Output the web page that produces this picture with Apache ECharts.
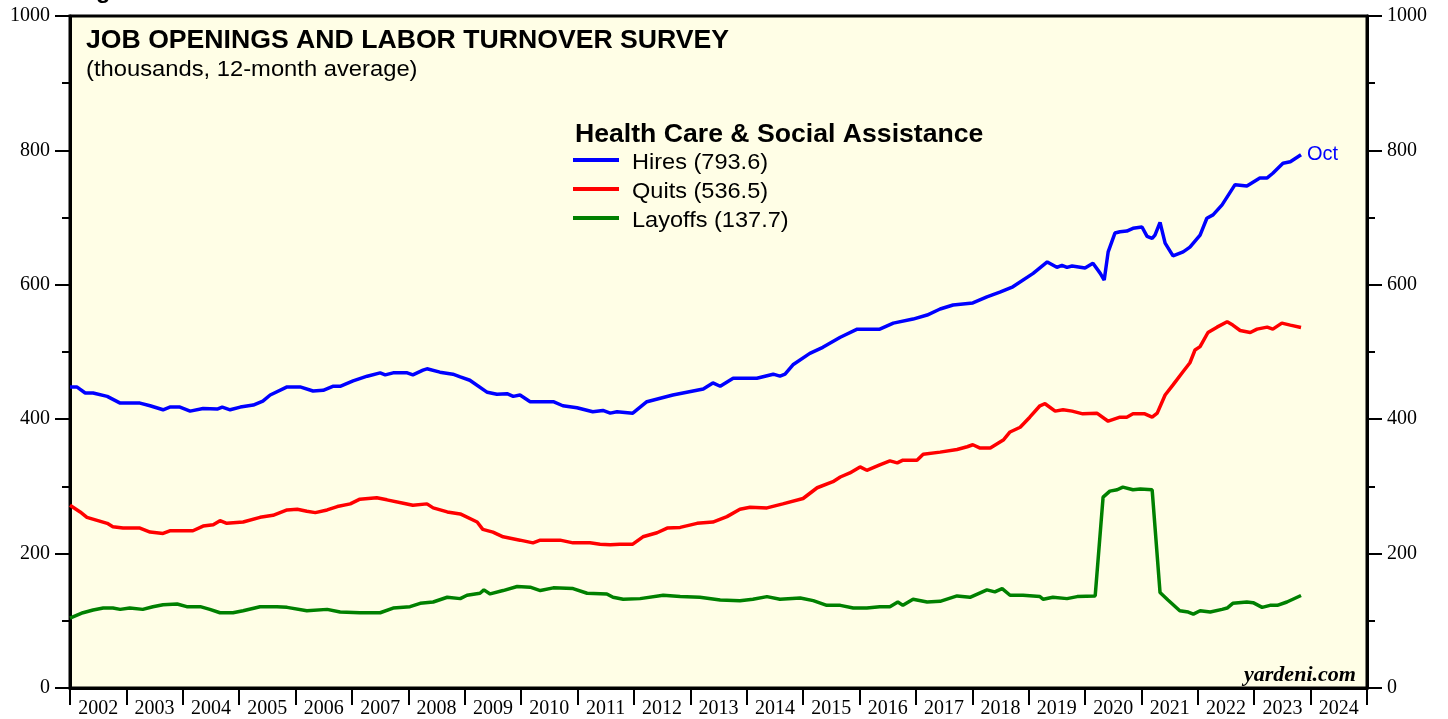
<!DOCTYPE html>
<html>
<head>
<meta charset="utf-8">
<script src="https://cdn.jsdelivr.net/npm/echarts@6/dist/echarts.min.js"></script>
<style>
  html, body { margin: 0; padding: 0; background: #fff; }
  #chart { width: 1448px; height: 719px; }
</style>
</head>
<body>
<div id="chart"></div>
<script>
// 年份标签（每个标签居中于一年）
const yearLabels = ['2002','2003','2004','2005','2006','2007','2008','2009','2010','2011','2012',
  '2013','2014','2015','2016','2017','2018','2019','2020','2021','2022','2023','2024'];
// y轴刻度
const yTicks = [0, 200, 400, 600, 800, 1000];
const lastMonth = 'Oct';

// 雇佣 Hires [年份, 千人]
const hires = [
  [2002.00,448],[2002.12,448],[2002.27,439],[2002.41,439],[2002.66,434],[2002.89,424],[2003.24,424],
  [2003.42,420],[2003.65,414],[2003.77,418],[2003.95,418],[2004.13,412],[2004.36,416],[2004.61,415],
  [2004.70,418],[2004.84,414],[2005.02,418],[2005.25,421],[2005.42,427],[2005.55,436],[2005.85,448],
  [2006.08,448],[2006.31,442],[2006.49,443],[2006.66,449],[2006.79,449],[2007.02,457],[2007.27,464],
  [2007.50,469],[2007.59,466],[2007.73,469],[2007.98,469],[2008.08,466],[2008.26,473],[2008.33,475],
  [2008.56,470],[2008.79,467],[2008.92,463],[2009.09,458],[2009.40,440],[2009.57,437],[2009.75,438],
  [2009.86,434],[2009.98,436],[2010.16,426],[2010.57,426],[2010.74,420],[2010.99,417],[2011.27,411],
  [2011.45,413],[2011.58,409],[2011.70,411],[2011.98,409],[2012.23,426],[2012.69,436],[2013.23,445],
  [2013.40,454],[2013.53,449],[2013.76,461],[2014.18,461],[2014.47,467],[2014.59,464],[2014.68,467],
  [2014.82,481],[2015.12,498],[2015.35,507],[2015.66,522],[2015.96,534],[2016.36,534],[2016.60,543],
  [2016.95,549],[2017.20,555],[2017.43,564],[2017.66,570],[2018.01,573],[2018.26,582],[2018.49,589],
  [2018.72,597],[2019.08,617],[2019.33,634],[2019.50,626],[2019.59,629],[2019.68,626],[2019.77,628],
  [2020.00,625],[2020.14,632],[2020.27,617],[2020.34,607],[2020.41,649],[2020.53,677],[2020.62,679],
  [2020.74,680],[2020.85,684],[2021.01,686],[2021.10,672],[2021.19,669],[2021.24,674],[2021.33,693],
  [2021.42,662],[2021.56,643],[2021.74,649],[2021.86,656],[2022.04,674],[2022.16,699],[2022.27,704],
  [2022.43,719],[2022.66,749],[2022.87,747],[2023.10,759],[2023.23,759],[2023.33,766],[2023.51,781],
  [2023.64,783],[2023.83,793.6]
];

// 辞职 Quits
const quits = [
  [2002.00,272],[2002.18,262],[2002.30,254],[2002.66,245],[2002.76,240],[2002.94,238],[2003.24,238],
  [2003.42,232],[2003.65,230],[2003.77,234],[2004.18,234],[2004.36,241],[2004.54,243],[2004.66,249],
  [2004.78,245],[2005.07,247],[2005.37,254],[2005.60,257],[2005.85,265],[2006.03,266],[2006.20,263],
  [2006.35,261],[2006.56,265],[2006.74,270],[2006.97,274],[2007.14,281],[2007.44,283],[2007.62,280],
  [2007.91,275],[2008.08,272],[2008.33,274],[2008.44,268],[2008.69,262],[2008.92,259],[2009.22,247],
  [2009.32,236],[2009.50,232],[2009.68,225],[2009.98,220],[2010.21,216],[2010.34,220],[2010.69,220],
  [2010.92,216],[2011.22,216],[2011.40,214],[2011.58,213],[2011.75,214],[2011.98,214],[2012.16,225],
  [2012.41,231],[2012.59,238],[2012.82,239],[2013.12,245],[2013.40,247],[2013.65,255],[2013.88,266],
  [2014.06,269],[2014.36,268],[2014.64,274],[2015.00,282],[2015.25,298],[2015.53,307],[2015.66,314],
  [2015.83,320],[2016.01,329],[2016.13,324],[2016.36,332],[2016.54,338],[2016.67,335],[2016.77,339],
  [2017.02,339],[2017.13,348],[2017.43,351],[2017.73,355],[2017.91,359],[2018.01,362],[2018.14,357],
  [2018.32,357],[2018.55,369],[2018.67,381],[2018.85,388],[2019.02,403],[2019.20,420],[2019.29,423],
  [2019.47,412],[2019.61,414],[2019.77,412],[2019.96,408],[2020.21,409],[2020.41,397],[2020.62,403],
  [2020.74,403],[2020.85,408],[2021.06,408],[2021.19,403],[2021.28,409],[2021.42,436],[2021.56,451],
  [2021.74,471],[2021.86,484],[2021.95,503],[2022.04,508],[2022.18,529],[2022.34,537],[2022.52,545],
  [2022.62,540],[2022.75,532],[2022.93,529],[2023.05,534],[2023.23,537],[2023.33,534],[2023.49,543],
  [2023.64,540],[2023.83,536.5]
];

// 裁员 Layoffs
const layoffs = [
  [2002.00,104],[2002.23,112],[2002.41,116],[2002.59,119],[2002.76,119],[2002.89,117],[2003.06,119],
  [2003.29,117],[2003.47,121],[2003.65,124],[2003.90,125],[2004.07,121],[2004.31,121],[2004.48,117],
  [2004.66,112],[2004.89,112],[2005.07,115],[2005.37,121],[2005.67,121],[2005.85,120],[2006.20,115],
  [2006.56,117],[2006.79,113],[2007.14,112],[2007.50,112],[2007.73,119],[2008.03,121],[2008.21,126],
  [2008.44,128],[2008.69,135],[2008.92,133],[2009.04,138],[2009.27,141],[2009.34,146],[2009.45,140],
  [2009.68,145],[2009.93,151],[2010.16,150],[2010.34,145],[2010.57,149],[2010.92,148],[2011.17,141],
  [2011.52,140],[2011.63,135],[2011.81,132],[2012.11,133],[2012.52,138],[2012.82,136],[2013.17,135],
  [2013.53,131],[2013.88,130],[2014.11,132],[2014.36,136],[2014.59,132],[2014.95,134],[2015.18,130],
  [2015.42,123],[2015.66,123],[2015.89,119],[2016.13,119],[2016.36,121],[2016.54,121],[2016.68,128],
  [2016.77,123],[2016.95,132],[2017.20,128],[2017.43,129],[2017.73,137],[2017.96,135],[2018.26,146],
  [2018.40,143],[2018.53,148],[2018.67,138],[2018.90,138],[2019.20,136],[2019.26,132],[2019.43,135],
  [2019.68,133],[2019.86,136],[2020.18,137],[2020.32,284],[2020.44,293],[2020.57,295],[2020.67,299],
  [2020.85,295],[2020.98,296],[2021.19,295],[2021.33,142],[2021.47,131],[2021.68,115],[2021.83,113],
  [2021.92,110],[2022.04,115],[2022.22,113],[2022.43,117],[2022.52,119],[2022.62,126],[2022.87,128],
  [2022.98,127],[2023.14,120],[2023.28,123],[2023.41,123],[2023.58,128],[2023.83,137.7]
];

const seriesNames = ['Hires', 'Quits', 'Layoffs'];
const seriesColors = ['#0000ff', '#ff0000', '#008000'];
const seriesData = [hires, quits, layoffs];

const sans = '"Liberation Sans", Arial, sans-serif';
const serif = '"Liberation Serif", "Times New Roman", serif';
const stretch = 1.07; // 原图文字略宽

let myChart = echarts.init(document.getElementById('chart'));

// y轴公用设置
function yAxisOpt(pos) {
  return {
    type: 'value',
    position: pos,
    min: yTicks[0],
    max: yTicks[yTicks.length - 1],
    interval: 200,
    axisLine: { show: true, lineStyle: { color: '#000', width: 3 } },
    axisTick: { show: true, length: 15, lineStyle: { color: '#000', width: 2 } },
    minorTick: { show: true, splitNumber: 2, length: 8, lineStyle: { color: '#000', width: 2 } },
    splitLine: { show: false },
    axisLabel: {
      color: '#000', fontFamily: serif, fontSize: 20, margin: 20,
      formatter: function (v) { return String(v); }
    }
  };
}

// 文字
function txt(x, y, text, font, opts) {
  opts = opts || {};
  return {
    type: 'text',
    x: x, y: y,
    scaleX: opts.scaleX || stretch,
    z: 100,
    style: {
      text: text,
      font: font,
      fill: opts.fill || '#000',
      align: opts.align || 'left',
      verticalAlign: 'top'
    }
  };
}

// 图例（线段 + 文字，数值取最后一个点）
let legendEls = [];
seriesNames.forEach(function (name, i) {
  const d = seriesData[i];
  const cy = 160 + i * 29;
  legendEls.push({
    type: 'line',
    z: 100,
    shape: { x1: 573, y1: cy, x2: 619, y2: cy },
    style: { stroke: seriesColors[i], lineWidth: 4 }
  });
  legendEls.push(txt(632, cy - 8, name + ' (' + d[d.length - 1][1].toFixed(1) + ')', '22px ' + sans));
});

let option = {
  animation: false,
  backgroundColor: '#ffffff',
  graphic: [
    txt(75, -19, 'Figure 6.', 'bold 22px ' + sans),
    txt(86, 29, 'JOB OPENINGS AND LABOR TURNOVER SURVEY', 'bold 25px ' + sans, { scaleX: 1.065 }),
    txt(86, 59, '(thousands, 12-month average)', '22px ' + sans, { scaleX: 1.08 }),
    txt(575, 123, 'Health Care & Social Assistance', 'bold 25px ' + sans, { scaleX: 1.065 }),
    txt(1356, 665, 'yardeni.com', 'italic bold 21px ' + serif, { align: 'right', scaleX: 1.05 })
  ].concat(legendEls),
  grid: {
    left: 70, right: 81, top: 16, bottom: 31,
    show: true,
    backgroundColor: '#fffee6',
    borderColor: '#000',
    borderWidth: 3
  },
  xAxis: [
    { type: 'value', min: 2002, max: 2025, show: false },
    {
      type: 'category',
      position: 'bottom',
      data: yearLabels,
      boundaryGap: true,
      axisLine: { show: true, lineStyle: { color: '#000', width: 3 } },
      axisTick: { show: true, length: 17, interval: 0, lineStyle: { color: '#000', width: 2 } },
      axisLabel: { interval: 0, color: '#000', fontFamily: serif, fontSize: 20, margin: 11 },
      splitLine: { show: false }
    }
  ],
  yAxis: [yAxisOpt('left'), yAxisOpt('right')],
  series: seriesNames.map(function (name, i) {
    return {
      name: name,
      type: 'line',
      xAxisIndex: 0,
      yAxisIndex: 0,
      data: seriesData[i],
      showSymbol: false,
      symbol: 'none',
      color: seriesColors[i],
      lineStyle: { color: seriesColors[i], width: 3.5 },
      endLabel: i === 0 ? {
        show: true,
        formatter: lastMonth,
        color: seriesColors[i],
        fontFamily: sans,
        fontSize: 20,
        distance: 6
      } : { show: false },
      z: 3 - i
    };
  })
};

myChart.setOption(option);
</script>
</body>
</html>
